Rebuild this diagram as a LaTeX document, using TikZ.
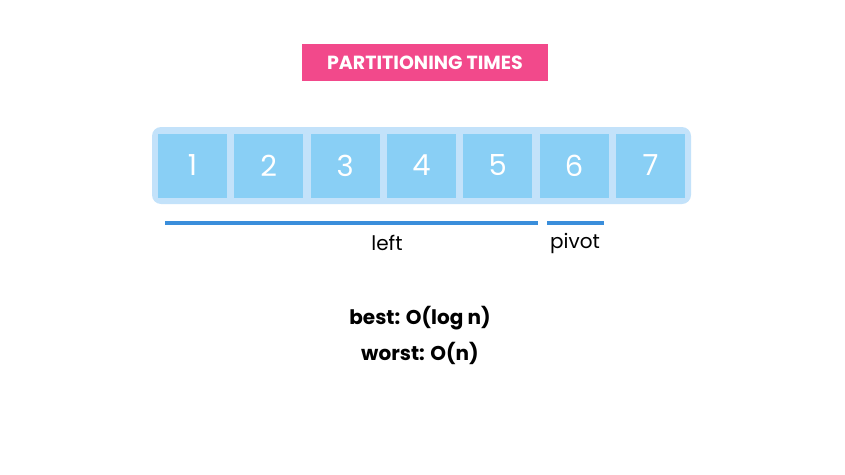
\documentclass[tikz,border=0pt]{standalone}
\usepackage{fontspec}
\setmainfont{Poppins}
\usetikzlibrary{positioning}
\definecolor{titlepink}{HTML}{F2498B}
\definecolor{cellblue}{HTML}{89CFF5}
\definecolor{trayblue}{HTML}{C3E2FA}
\definecolor{spanblue}{HTML}{3A8EDB}
\tikzset{
  cell/.style={fill=cellblue, minimum width=69pt, minimum height=64pt, inner sep=0pt,
    text=white, font=\fontsize{29}{32}\selectfont},
  span/.style={draw=spanblue, line width=4pt, line cap=butt},
  lbl/.style={inner sep=0pt, font=\fontsize{20}{23}\selectfont},
  cost/.style={inner sep=0pt, font=\fontsize{20}{24}\selectfont\bfseries}
}
\begin{document}
\begin{tikzpicture}[x=1pt, y=-1pt, line join=round]
  \useasboundingbox (0,0) rectangle (845,474);
  % title
  \node[fill=titlepink, minimum width=246pt, minimum height=37pt, text=white,
    font=\fontsize{19}{22}\selectfont\bfseries] (title) at (425,62.5) {PARTITIONING TIMES};
  % tray and cells
  \node[fill=trayblue, rounded corners=9pt, minimum width=539pt, minimum height=77pt] (tray) at (421.5,165.5) {};
  \foreach \i in {1,...,7}
    \node[cell] (c\i) at ({192.5+76.33*(\i-1)},165.5) {\i};
  % spans
  \coordinate (l0) at (165,223);
  \coordinate (l1) at (538,223);
  \coordinate (p0) at (547,223);
  \coordinate (p1) at (604,223);
  \draw[span] (l0) -- (l1);
  \draw[span] (p0) -- (p1);
  \node[lbl] (left) at (387,243) {left};
  \node[lbl] (pivot) at (575,243) {pivot};
  % costs
  \node[cost] (best) at (420,318) {best: O(log n)};
  \node[cost, below=12pt of best] (worst) {worst: O(n)};
\end{tikzpicture}
\end{document}
